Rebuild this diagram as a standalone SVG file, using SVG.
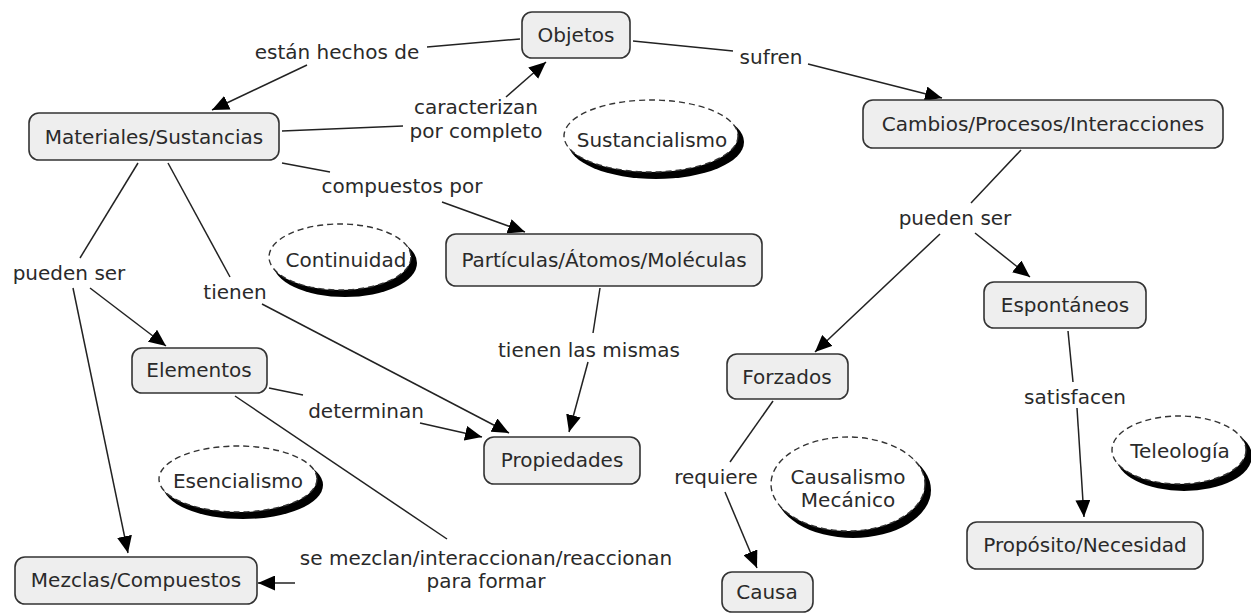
<svg xmlns="http://www.w3.org/2000/svg" width="1251" height="613" viewBox="0 0 1251 613">
<defs>
<style>
.n rect{fill:#eeeeee;stroke:#333;stroke-width:1.6}
text{font-family:"DejaVu Sans",Verdana,sans-serif;font-size:20px;fill:#2a2a2a;text-anchor:middle}
.c line{stroke:#222;stroke-width:1.5}
.sh{fill:#000}
.el{fill:#fff;stroke:#333;stroke-width:1.4;stroke-dasharray:6 4}
</style>
<marker id="ah" markerUnits="userSpaceOnUse" markerWidth="17" markerHeight="15" viewBox="0 0 17 15" refX="17" refY="7.5" orient="auto">
<path d="M0,0 L17,7.5 L0,15 z" fill="#000"/>
</marker>
</defs>
<rect width="1251" height="613" fill="#fff"/>

<g class="c">
<line x1="520" y1="39" x2="427" y2="47"/>
<line x1="307" y1="65" x2="212" y2="110" marker-end="url(#ah)"/>
<line x1="282" y1="131" x2="403" y2="126"/>
<line x1="506" y1="97" x2="546" y2="62" marker-end="url(#ah)"/>
<line x1="633" y1="41" x2="733" y2="51"/>
<line x1="808" y1="64" x2="942" y2="98" marker-end="url(#ah)"/>
<line x1="282" y1="163" x2="330" y2="172"/>
<line x1="442" y1="202" x2="525" y2="232" marker-end="url(#ah)"/>
<line x1="138" y1="163" x2="80" y2="258"/>
<line x1="90" y1="288" x2="166" y2="346" marker-end="url(#ah)"/>
<line x1="73" y1="288" x2="128" y2="553" marker-end="url(#ah)"/>
<line x1="168" y1="163" x2="230" y2="277"/>
<line x1="262" y1="304" x2="509" y2="433" marker-end="url(#ah)"/>
<line x1="600" y1="288" x2="593" y2="333"/>
<line x1="588" y1="362" x2="569" y2="432" marker-end="url(#ah)"/>
<line x1="269" y1="388" x2="303" y2="395"/>
<line x1="420" y1="423" x2="482" y2="437" marker-end="url(#ah)"/>
<line x1="235" y1="396" x2="447" y2="539"/>
<line x1="295" y1="583" x2="258" y2="583" marker-end="url(#ah)"/>
<line x1="1021" y1="150" x2="971" y2="203"/>
<line x1="940" y1="234" x2="815" y2="352" marker-end="url(#ah)"/>
<line x1="975" y1="233" x2="1030" y2="277" marker-end="url(#ah)"/>
<line x1="773" y1="401" x2="730" y2="462"/>
<line x1="725" y1="492" x2="757" y2="568" marker-end="url(#ah)"/>
<line x1="1068" y1="331" x2="1073" y2="382"/>
<line x1="1077" y1="408" x2="1084" y2="517" marker-end="url(#ah)"/>
</g>

<g id="labels">
<text x="337" y="59">están hechos de</text>
<text x="476" y="114">caracterizan</text>
<text x="476" y="138">por completo</text>
<text x="771" y="64">sufren</text>
<text x="402" y="193">compuestos por</text>
<text x="69" y="280">pueden ser</text>
<text x="235" y="299">tienen</text>
<text x="589" y="357">tienen las mismas</text>
<text x="366" y="418">determinan</text>
<text x="486" y="565">se mezclan/interaccionan/reaccionan</text>
<text x="486" y="588">para formar</text>
<text x="955" y="225">pueden ser</text>
<text x="716" y="484">requiere</text>
<text x="1075" y="404">satisfacen</text>
</g>

<g id="objetos" class="n"><rect x="522" y="12" width="108" height="46" rx="10"/><text x="576" y="42">Objetos</text></g>
<g id="materiales" class="n"><rect x="29" y="113" width="250" height="47" rx="10"/><text x="154" y="144">Materiales/Sustancias</text></g>
<g id="cambios" class="n"><rect x="863" y="100" width="360" height="48" rx="10"/><text x="1043" y="131">Cambios/Procesos/Interacciones</text></g>
<g id="particulas" class="n"><rect x="446" y="234" width="316" height="52" rx="10"/><text x="604" y="267">Partículas/Átomos/Moléculas</text></g>
<g id="elementos" class="n"><rect x="132" y="348" width="135" height="45" rx="10"/><text x="199" y="377">Elementos</text></g>
<g id="propiedades" class="n"><rect x="484" y="437" width="156" height="47" rx="10"/><text x="562" y="467">Propiedades</text></g>
<g id="espontaneos" class="n"><rect x="984" y="282" width="162" height="46" rx="10"/><text x="1065" y="312">Espontáneos</text></g>
<g id="forzados" class="n"><rect x="727" y="354" width="121" height="45" rx="10"/><text x="787" y="384">Forzados</text></g>
<g id="proposito" class="n"><rect x="967" y="522" width="236" height="47" rx="10"/><text x="1085" y="552">Propósito/Necesidad</text></g>
<g id="mezclas" class="n"><rect x="15" y="557" width="242" height="47" rx="10"/><text x="136" y="587">Mezclas/Compuestos</text></g>
<g id="causa" class="n"><rect x="722" y="572" width="91" height="40" rx="10"/><text x="767" y="599">Causa</text></g>

<g id="sustancialismo"><ellipse class="sh" cx="656" cy="142" rx="88" ry="37"/><ellipse class="el" cx="651" cy="136" rx="87" ry="36"/><text x="652" y="147">Sustancialismo</text></g>
<g id="continuidad"><ellipse class="sh" cx="345" cy="263" rx="72" ry="34"/><ellipse class="el" cx="340" cy="257" rx="71" ry="33"/><text x="346" y="267">Continuidad</text></g>
<g id="esencialismo"><ellipse class="sh" cx="243" cy="485" rx="80" ry="34"/><ellipse class="el" cx="238" cy="479" rx="79" ry="33"/><text x="238" y="488">Esencialismo</text></g>
<g id="causalismo"><ellipse class="sh" cx="853" cy="490" rx="78" ry="48"/><ellipse class="el" cx="848" cy="484" rx="77" ry="47"/><text x="848" y="484">Causalismo</text><text x="848" y="507">Mecánico</text></g>
<g id="teleologia"><ellipse class="sh" cx="1184" cy="456" rx="68" ry="35"/><ellipse class="el" cx="1179" cy="450" rx="67" ry="34"/><text x="1180" y="458">Teleología</text></g>
</svg>
